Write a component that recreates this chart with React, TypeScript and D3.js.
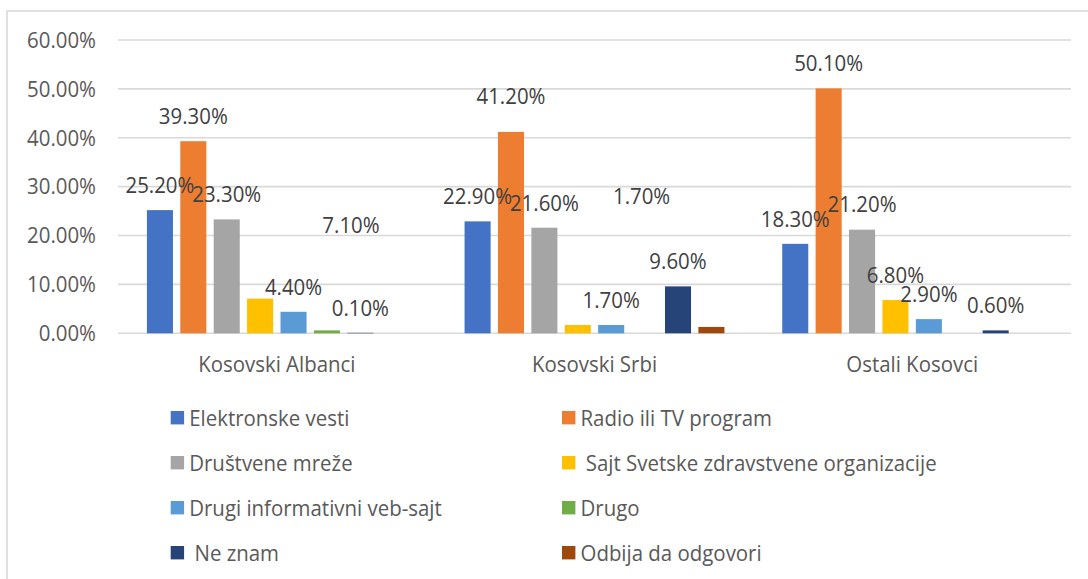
import React from "react";
import * as d3 from "d3";

const categories = ["Kosovski Albanci", "Kosovski Srbi", "Ostali Kosovci"];
const seriesNames = [
  "Elektronske vesti",
  "Radio ili TV program",
  "Društvene mreže",
  " Sajt Svetske zdravstvene organizacije",
  "Drugi informativni veb-sajt",
  "Drugo",
  " Ne znam",
  "Odbija da odgovori",
];
const seriesColors = ["#4472C4", "#ED7D31", "#A5A5A5", "#FFC000", "#5B9BD5", "#70AD47", "#264478", "#9E480E"];
const valuesAlbanci = [25.2, 39.3, 23.3, 7.1, 4.4, 0.6, 0.1, 0];
const valuesSrbi = [22.9, 41.2, 21.6, 1.7, 1.7, 0, 9.6, 1.3];
const valuesOstali = [18.3, 50.1, 21.2, 6.8, 2.9, 0, 0.6, 0];
const groupValues = [valuesAlbanci, valuesSrbi, valuesOstali];
const yTicks = [0, 10, 20, 30, 40, 50, 60];
// labels not drawn: [groupIndex, seriesIndex]
const hiddenLabels = [[0, 5], [0, 7], [1, 5], [1, 7], [2, 5], [2, 7]];
// labels dragged away from their bar: slot position (series units) and value anchor
const movedLabels = [
  { g: 0, s: 3, slot: 5.72, anchor: 17.0 },
  { g: 1, s: 3, slot: 4.91, anchor: 23.0 },
  { g: 1, s: 1, slot: 1, anchor: 43.3 },
];

const W = 1088;
const H = 579;
const FONT = "'Open Sans', sans-serif";
const FS = 22.2;
const SX = 0.92;

function T(props: {
  x: number;
  y: number;
  anchor?: "start" | "middle" | "end";
  fill: string;
  children: React.ReactNode;
}) {
  return (
    <text
      transform={`translate(${props.x},${props.y}) scale(${SX},1)`}
      textAnchor={props.anchor || "start"}
      fontSize={FS}
      fill={props.fill}
      style={{ whiteSpace: "pre" }}
    >
      {props.children}
    </text>
  );
}

export default function App() {
  const y = d3.scaleLinear().domain([0, 60]).range([333.3, 40]);
  const x0 = d3.scaleBand<string>().domain(categories).range([118, 1071]).padding(0);
  const x1 = d3
    .scaleBand<number>()
    .domain(d3.range(seriesNames.length))
    .range([0, x0.bandwidth()])
    .paddingInner(0.22)
    .paddingOuter(0.865);
  const bw = x1.bandwidth();
  const step = x1.step();
  const fmt = (v: number) => v.toFixed(2) + "%";
  const isHidden = (g: number, s: number) => hiddenLabels.some(([a, b]) => a === g && b === s);

  const legendCols = [170.7, 562];
  const legendRow0 = 417.7;
  const legendRowStep = 45;
  const base = 7.8;

  return (
    <svg
      width={W}
      height={H}
      style={{ position: "absolute", left: 0, top: 0, background: "#fff" }}
      fontFamily={FONT}
    >
      <rect x={0} y={0} width={W} height={H} fill="#fff" />
      <rect x={7} y={11} width={W + 20} height={H + 20} fill="none" stroke="#d9d9d9" strokeWidth={1.6} />
      {yTicks.map((t) => (
        <g key={t}>
          <line x1={118} x2={1071} y1={y(t)} y2={y(t)} stroke="#d9d9d9" strokeWidth={1.6} />
          <T x={96} y={y(t) + base} anchor="end" fill="#595959">
            {t.toFixed(2) + "%"}
          </T>
        </g>
      ))}
      {categories.map((c, gi) => (
        <g key={c}>
          {groupValues[gi].map((v, si) =>
            v > 0 ? (
              <rect
                key={si}
                x={(x0(c) as number) + (x1(si) as number)}
                y={y(v)}
                width={bw}
                height={y(0) - y(v)}
                fill={seriesColors[si]}
              />
            ) : null
          )}
          <T x={(x0(c) as number) + x0.bandwidth() / 2} y={372} anchor="middle" fill="#595959">
            {c}
          </T>
        </g>
      ))}
      {categories.map((c, gi) =>
        groupValues[gi].map((v, si) => {
          if (isHidden(gi, si)) return null;
          const mv = movedLabels.find((m) => m.g === gi && m.s === si);
          const slot = mv ? mv.slot : si;
          const anchor = mv ? mv.anchor : v;
          const cx = (x0(c) as number) + (x1(0) as number) + slot * step + bw / 2;
          const cy = y(anchor) - 25;
          return (
            <T key={c + si} x={cx} y={cy + base} anchor="middle" fill="#404040">
              {fmt(v)}
            </T>
          );
        })
      )}
      {seriesNames.map((n, i) => {
        const col = i % 2;
        const row = Math.floor(i / 2);
        const lx = legendCols[col];
        const ly = legendRow0 + row * legendRowStep;
        return (
          <g key={n}>
            <rect x={lx} y={ly - 6.7} width={13.4} height={13.4} fill={seriesColors[i]} />
            <T x={lx + 18.5} y={ly + base} fill="#595959">
              {n}
            </T>
          </g>
        );
      })}
    </svg>
  );
}
